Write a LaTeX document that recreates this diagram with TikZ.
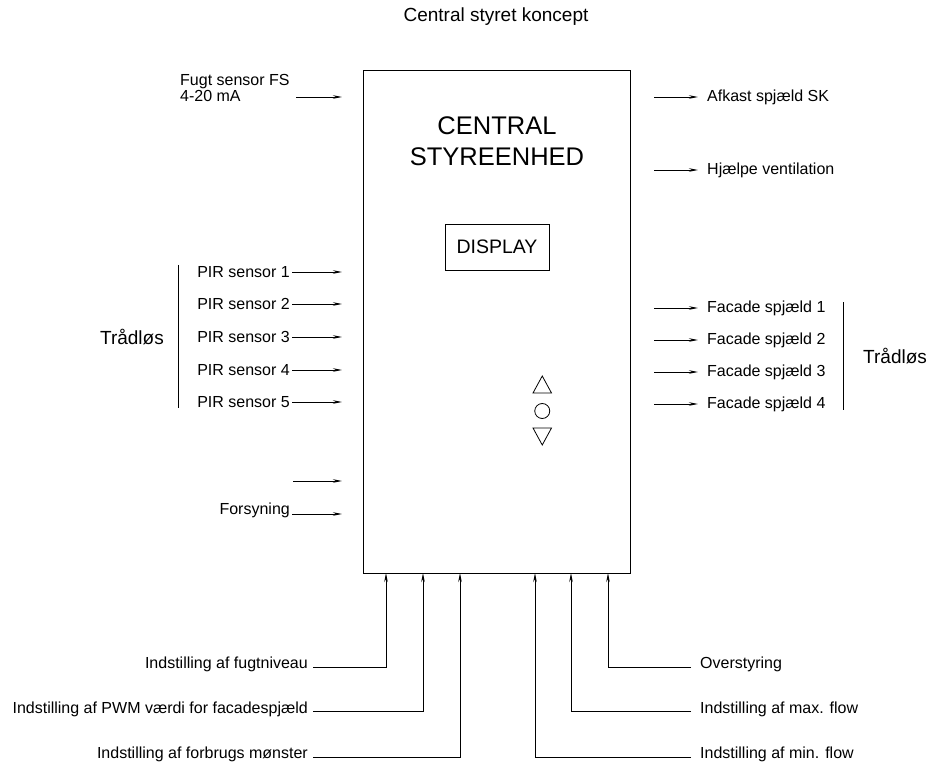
\documentclass[tikz,border=0pt]{standalone}
\usepackage{fontspec}
\setmainfont{Liberation Sans}
\usetikzlibrary{arrows.meta}
\begin{document}
\begin{tikzpicture}[x=1pt,y=-1pt,
  lbl/.style={font=\fontsize{16}{19}\selectfont, inner sep=2pt},
  side/.style={font=\fontsize{19}{23}\selectfont, inner sep=0pt},
  big/.style={font=\fontsize{25.5}{31}\selectfont, align=center, inner sep=0pt},
  arr/.style={-{Stealth[length=9pt,width=3.5pt]}, line width=0.8pt},
  ln/.style={line width=0.8pt}]
\useasboundingbox (0,0) rectangle (932,770);
% main unit
\node[draw, line width=0.8pt, minimum width=267pt, minimum height=503pt, inner sep=0pt] (box) at (496.5,321.5) {};
\node[lbl, font=\fontsize{19}{22}\selectfont] (title) at (496,17) {Central styret koncept};
\node[big] (head) at (497,141) {CENTRAL\\STYREENHED};
\node[draw, line width=0.8pt, minimum width=104pt, minimum height=46pt, font=\fontsize{19.5}{23}\selectfont] (disp) at (497,247) {DISPLAY};
% buttons
\draw[ln] (533,393) -- (551.5,393) -- (542.25,376) -- cycle;
\draw[ln] (542.25,411) circle (7.5);
\draw[ln] (533,428) -- (551.5,428) -- (542.25,445) -- cycle;
% left inputs
\node[lbl, anchor=west, align=left] (fugt) at (178,88) {Fugt sensor FS\\[-3pt]4-20 mA};
\coordinate (f0) at (296,97);
\coordinate (f1) at (342,97);
\draw[arr] (f0) -- (f1);
\foreach \i/\y in {1/272,2/304,3/337,4/370,5/402}{
  \node[lbl, anchor=east] (pir\i) at (292,\y) {PIR sensor \i};
  \coordinate (pe\i) at (342,\y);
  \draw[arr] (pir\i.east) -- (pe\i);
}
\coordinate (lb1) at (178,265);
\coordinate (lb2) at (178,408);
\draw[ln] (lb1) -- (lb2);
\node[side, anchor=east] (tl) at (164,337) {Trådløs};
\coordinate (u0) at (293,481);
\coordinate (u1) at (342,481);
\draw[arr] (u0) -- (u1);
\node[lbl, anchor=east] (fors) at (292,510) {Forsyning};
\coordinate (fe) at (342,514);
\draw[arr] (fors.east |- fe) -- (fe);
% right outputs
\foreach \n/\y/\t in {afk/97/{Afkast spjæld SK},hj/170/{Hjælpe ventilation},fa1/308/{Facade spjæld 1},fa2/340/{Facade spjæld 2},fa3/372/{Facade spjæld 3},fa4/404/{Facade spjæld 4}}{
  \coordinate (s\n) at (654,\y);
  \node[lbl, anchor=west, inner sep=0pt] (\n) at (707,\y) {\t};
  \coordinate (e\n) at (698,\y);
  \draw[arr] (s\n) -- (e\n);
}
\coordinate (rb1) at (843,302);
\coordinate (rb2) at (843,410);
\draw[ln] (rb1) -- (rb2);
\node[side, anchor=west] (tr) at (863,356) {Trådløs};
% bottom inputs
\node[lbl, anchor=east, inner sep=0pt] (b1) at (308,664) {Indstilling af fugtniveau};
\node[lbl, anchor=east, inner sep=0pt] (b2) at (308,709) {Indstilling af PWM værdi for facadespjæld};
\node[lbl, anchor=east, inner sep=0pt] (b3) at (308,754) {Indstilling af forbrugs mønster};
\coordinate (t1) at (386,573);
\coordinate (t2) at (423,573);
\coordinate (t3) at (460,573);
\draw[arr] ([xshift=5pt,yshift=-3pt]b1.east) -| (t1);
\draw[arr] ([xshift=5pt,yshift=-2pt]b2.east) -| (t2);
\draw[arr] ([xshift=5pt,yshift=-3pt]b3.east) -| (t3);
\node[lbl, anchor=west, inner sep=0pt] (r1) at (700,664) {Overstyring};
\node[lbl, anchor=west, inner sep=0pt] (r2) at (700,709) {Indstilling af max. flow};
\node[lbl, anchor=west, inner sep=0pt] (r3) at (700,754) {Indstilling af min. flow};
\coordinate (t4) at (608,573);
\coordinate (t5) at (571,573);
\coordinate (t6) at (535,573);
\draw[arr] ([xshift=-9pt,yshift=-3pt]r1.west) -| (t4);
\draw[arr] ([xshift=-9pt,yshift=-2pt]r2.west) -| (t5);
\draw[arr] ([xshift=-9pt,yshift=-3pt]r3.west) -| (t6);
\end{tikzpicture}
\end{document}
